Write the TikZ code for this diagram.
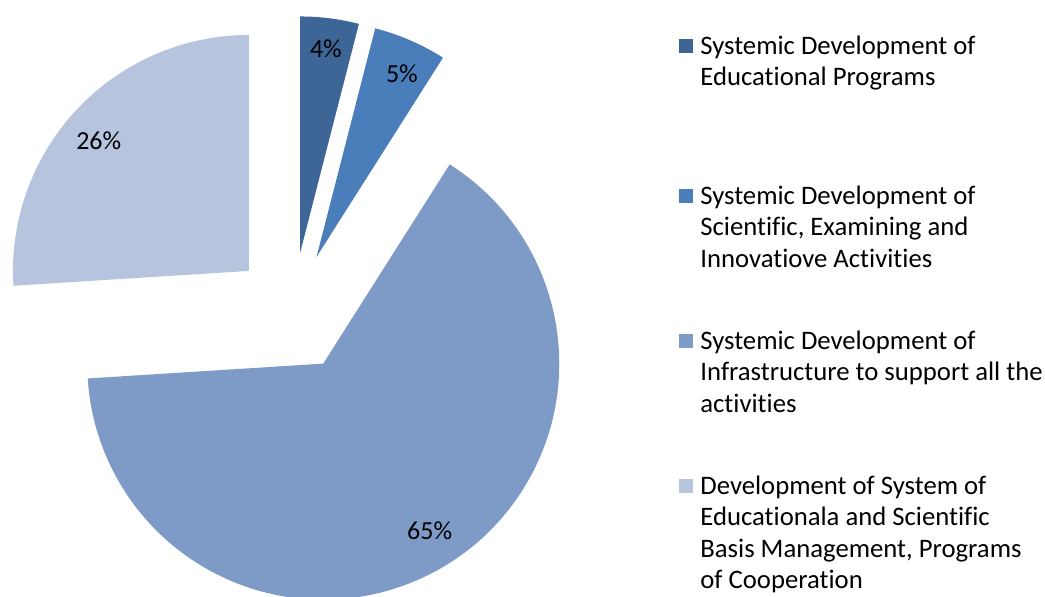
\documentclass[tikz,border=0pt]{standalone}
\usepackage{fontspec}
\setmainfont{Carlito}[Ligatures={NoCommon}]
\usetikzlibrary{calc,positioning}
\definecolor{educ}{HTML}{3D6697}
\definecolor{scien}{HTML}{4A7EBB}
\definecolor{infra}{HTML}{7E9BC8}
\definecolor{manag}{HTML}{B7C4DE}
\tikzstyle{legend box}=[
        minimum size = 14pt,
        inner sep = 0pt
    ]
\tikzstyle{legend text}=[
    anchor = north west,
    align = left,
    inner sep = 0pt,
    xshift = 7pt,
    yshift = 3pt,
    font = \fontsize{26.7}{31.4}\selectfont
]
\tikzstyle{pct}=[font = \fontsize{26}{30}\selectfont]

\begin{document}
\begin{tikzpicture}[x=1pt, y=1pt]
        \useasboundingbox (0,0) rectangle (1045,597);
        \coordinate (c) at (292.7,285);
        \coordinate (a1) at ($(c)+(82.8:60)$);
        \coordinate (a2) at ($(c)+(66.6:60)$);
        \coordinate (a3) at ($(c)+(-59.4:60)$);
        \coordinate (a4) at ($(c)+(136.8:60)$);

        \fill[educ] (a1) -- ++(90:236) arc[start angle=90, end angle=75.6, radius=236] -- cycle;
        \fill[scien] (a2) -- ++(75.6:236) arc[start angle=75.6, end angle=57.6, radius=236] -- cycle;
        \fill[infra] (a3) -- ++(57.6:236) arc[start angle=57.6, end angle=-176.4, radius=236] -- cycle;
        \fill[manag] (a4) -- ++(183.6:236) arc[start angle=183.6, end angle=90, radius=236] -- cycle;

        \node[pct] (p1) at ($(a1)+(82.8:205)$) {4\%};
        \node[pct] (p2) at ($(a2)+(65:202)$) {5\%};
        \node[pct] (p3) at ($(a3)+(-57.5:198)$) {65\%};
        \node[pct] (p4) at ($(a4)+(139:199)$) {26\%};

        \node[legend box, fill=educ] (b1) at (686,551) {};
        \node[legend box, fill=scien] (b2) at (686,401) {};
        \node[legend box, fill=infra] (b3) at (686,256) {};
        \node[legend box, fill=manag] (b4) at (686,111) {};

        \node[legend text] (t1) at (b1.north east) {Systemic Development of\\Educational Programs};
        \node[legend text] (t2) at (b2.north east) {Systemic Development of\\Scientific, Examining and\\Innovatiove Activities};
        \node[legend text] (t3) at (b3.north east) {Systemic Development of\\Infrastructure to support all the\\activities};
        \node[legend text] (t4) at (b4.north east) {Development of System of\\Educationala and Scientific\\Basis Management, Programs\\of Cooperation};

    \end{tikzpicture}
\end{document}
